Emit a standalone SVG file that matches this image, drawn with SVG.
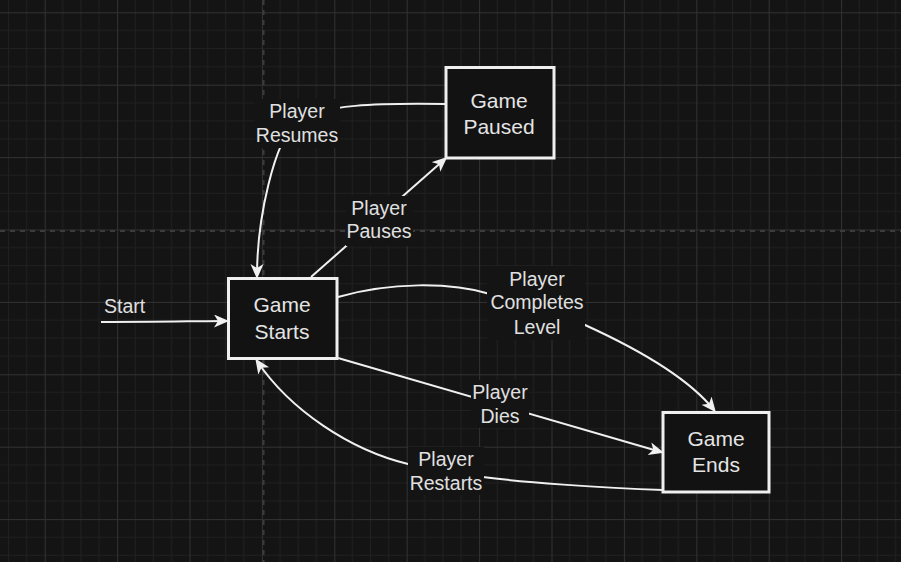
<svg xmlns="http://www.w3.org/2000/svg" width="901" height="562" viewBox="0 0 901 562">
  <defs>
    <pattern id="grid" patternUnits="userSpaceOnUse" x="44.7" y="12.3" width="72.4" height="72.4">
      <path d="M18.1,0V72.4M36.2,0V72.4M54.3,0V72.4M0,18.1H72.4M0,36.2H72.4M0,54.3H72.4" stroke="#202020" stroke-width="1" fill="none"/>
      <path d="M0.5,0V72.4M0,0.5H72.4" stroke="#323232" stroke-width="1" fill="none"/>
    </pattern>
    <marker id="arrow" markerUnits="userSpaceOnUse" markerWidth="18" markerHeight="16" refX="12" refY="6.5" orient="auto">
      <path d="M0,0 L15,6.5 L0,13 L4,6.5 Z" fill="#f0f0f0"/>
    </marker>
    <style>
      .bg { fill: #141414; }
      .node rect { fill: #121212; stroke: #efefef; stroke-width: 3; }
      .node text { font-family: "Liberation Sans", Arial, sans-serif; font-size: 21px; fill: #e4e4e4; text-anchor: middle; }
      .edge { fill: none; stroke: #f0f0f0; stroke-width: 2; }
      .label rect { fill: #141414; }
      .label text { font-family: "Liberation Sans", Arial, sans-serif; font-size: 19.5px; fill: #e0e0e0; text-anchor: middle; }
    </style>
  </defs>

  <rect class="bg" x="0" y="0" width="901" height="562"/>
  <rect x="0" y="0" width="901" height="562" fill="url(#grid)"/>
  <g id="page-breaks" stroke="#3c3c3c" stroke-width="2" stroke-dasharray="5,5" fill="none">
    <path d="M263.5,0V562"/>
    <path d="M0,231H901"/>
  </g>

  <g id="connectors">
    <path id="e-start" class="edge" d="M101,322 C160,322 200,321 226,321" marker-end="url(#arrow)"/>
    <path id="e-resumes" class="edge" d="M445,104 C380,103 320,104 297,122 S257,220 257,276" marker-end="url(#arrow)"/>
    <path id="e-pauses" class="edge" d="M311,277 L445,159" marker-end="url(#arrow)"/>
    <path id="e-completes" class="edge" d="M338,297 C390,282 450,282 490,294 L585,325 C640,350 690,380 714,410" marker-end="url(#arrow)"/>
    <path id="e-dies" class="edge" d="M338,358 L661,452" marker-end="url(#arrow)"/>
    <path id="e-restarts" class="edge" d="M663,490 C600,488 520,482 483,477 L408,464 C350,450 290,410 257,361" marker-end="url(#arrow)"/>

    <g class="label" id="l-start">
      <text x="104" y="313" style="text-anchor:start">Start</text>
    </g>
    <g class="label" id="l-resumes">
      <rect x="255" y="99" width="85" height="49"/>
      <text x="297" y="118">Player</text>
      <text x="297" y="142">Resumes</text>
    </g>
    <g class="label" id="l-pauses">
      <rect x="346" y="196" width="67" height="50"/>
      <text x="379" y="215">Player</text>
      <text x="379" y="238">Pauses</text>
    </g>
    <g class="label" id="l-completes">
      <rect x="487" y="266" width="98" height="74"/>
      <text x="537" y="286">Player</text>
      <text x="537" y="309">Completes</text>
      <text x="537" y="334">Level</text>
    </g>
    <g class="label" id="l-dies">
      <rect x="471" y="380" width="58" height="48"/>
      <text x="500" y="399">Player</text>
      <text x="500" y="423">Dies</text>
    </g>
    <g class="label" id="l-restarts">
      <rect x="408" y="447" width="76" height="48"/>
      <text x="446" y="466">Player</text>
      <text x="446" y="490">Restarts</text>
    </g>
  </g>

  <g id="node-game-starts" class="node">
    <rect x="228.5" y="278.5" width="108.5" height="80"/>
    <text x="282" y="312">Game</text>
    <text x="282" y="339">Starts</text>
  </g>
  <g id="node-game-paused" class="node">
    <rect x="446" y="67.5" width="108" height="90.5"/>
    <text x="499" y="108">Game</text>
    <text x="499" y="134">Paused</text>
  </g>
  <g id="node-game-ends" class="node">
    <rect x="663" y="412.5" width="106" height="79.5"/>
    <text x="716" y="446">Game</text>
    <text x="716" y="472">Ends</text>
  </g>
</svg>
